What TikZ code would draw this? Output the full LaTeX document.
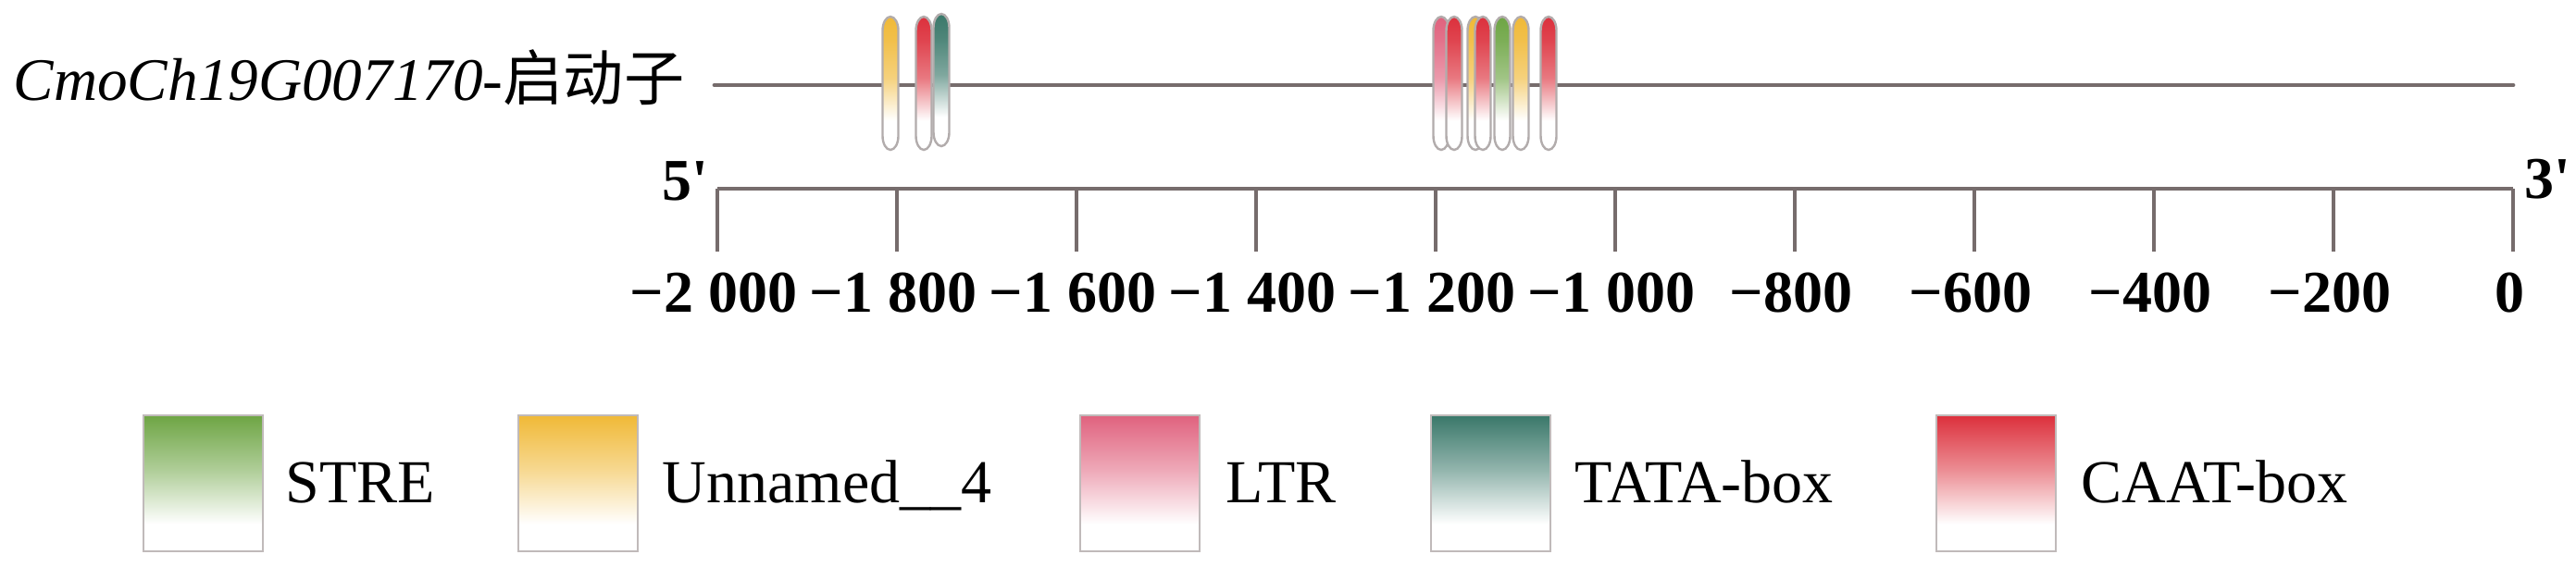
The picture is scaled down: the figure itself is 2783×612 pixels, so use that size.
\documentclass[tikz,border=0pt]{standalone}
\usepackage{fontspec}
\setmainfont{Liberation Serif}
\newfontfamily\cjk{Noto Sans CJK SC}
\definecolor{strecol}{RGB}{110,165,68}
\definecolor{unncol}{RGB}{240,185,55}
\definecolor{ltrcol}{RGB}{224,98,126}
\definecolor{tatacol}{RGB}{58,120,106}
\definecolor{caatcol}{RGB}{220,48,60}
\definecolor{capedge}{RGB}{178,172,172}
\definecolor{legedge}{RGB}{192,186,186}
\definecolor{linecol}{RGB}{118,108,108}
\colorlet{capcol}{red}
\pgfdeclareverticalshading[capcol]{capshade}{100bp}{color(0bp)=(white); color(35bp)=(white); color(55bp)=(capcol!55!white); color(75bp)=(capcol); color(100bp)=(capcol)}
\pgfdeclareverticalshading[capcol]{pinshade}{100bp}{color(0bp)=(white); color(36bp)=(white); color(52bp)=(capcol!65!white); color(66bp)=(capcol!90!white); color(75bp)=(capcol); color(100bp)=(capcol)}
\tikzset{
  capsule/.style={/utils/exec={\colorlet{capcol}{#1}}, shade, shading=pinshade, draw=capedge, line width=0.6pt},
  legbox/.style={/utils/exec={\colorlet{capcol}{#1}}, shade, shading=capshade, draw=legedge, line width=0.6pt,
    minimum width=32.25pt, minimum height=36.75pt, inner sep=0pt, anchor=north west},
  dnaline/.style={draw=linecol, line width=1.2pt, line cap=round},
  axisline/.style={draw=linecol, line width=1pt},
  ticklab/.style={font=\fontsize{16pt}{19pt}\selectfont\bfseries, anchor=base, inner sep=0pt},
  leglab/.style={font=\fontsize{16.5pt}{20pt}\selectfont, anchor=base west, inner sep=0pt},
}
\newcommand\capsuleat[4]{% x, color, top, bottom
  \path[capsule=#2] (#1-8.5,#3+15) arc[start angle=180,end angle=0,x radius=2.125pt,y radius=3.75pt]
    -- (#1+8.5,#4-15) arc[start angle=0,end angle=-180,x radius=2.125pt,y radius=3.75pt] -- cycle;}
\begin{document}
\begin{tikzpicture}[x=0.25pt,y=-0.25pt]
\useasboundingbox (0,0) rectangle (2783,612);
% title
\node[anchor=base west, inner sep=0pt, font=\fontsize{16.3pt}{19pt}\selectfont] (title) at (14,108)
  {\itshape CmoCh19G007170-{\upshape\cjk 启动子}};
% promoter line
\coordinate (l0) at (772,92);
\coordinate (l1) at (2715,92);
\draw[dnaline] (l0) -- (l1);
% elements
\capsuleat{962}{unncol}{18}{162}
\capsuleat{998}{caatcol}{18}{162}
\capsuleat{1017}{tatacol}{15}{158}
\capsuleat{1557}{ltrcol}{18}{162}
\capsuleat{1571}{caatcol}{18}{162}
\capsuleat{1594}{unncol}{18}{162}
\capsuleat{1602}{caatcol}{18}{162}
\capsuleat{1623}{strecol}{18}{162}
\capsuleat{1643}{unncol}{18}{162}
\capsuleat{1673}{caatcol}{18}{162}
% axis
\coordinate (a0) at (775,204);
\coordinate (a1) at (2715,204);
\draw[axisline] (a0) -- (a1);
\foreach \i/\lab in {0/−2~000,1/−1~800,2/−1~600,3/−1~400,4/−1~200,5/−1~000,6/−800,7/−600,8/−400,9/−200,10/0}{
  \draw[axisline] (775+194*\i,204) -- (775+194*\i,272);
  \node[ticklab] (t\i) at (775+194*\i-4,337) {\lab};
}
\node[ticklab, anchor=base east] (five) at (766,216) {5\textquotesingle};
\node[ticklab, anchor=base west] (three) at (2727,214) {3\textquotesingle};
% legend
\node[legbox=strecol] (b1) at (154,448) {};
\node[leglab] (g1) at (308,543) {STRE};
\node[legbox=unncol] (b2) at (559,448) {};
\node[leglab] (g2) at (715,543) {Unnamed\_\_4};
\node[legbox=ltrcol] (b3) at (1166,448) {};
\node[leglab] (g3) at (1324,543) {LTR};
\node[legbox=tatacol] (b4) at (1545,448) {};
\node[leglab] (g4) at (1701,543) {TATA-box};
\node[legbox=caatcol] (b5) at (2091,448) {};
\node[leglab] (g5) at (2248,543) {CAAT-box};
\end{tikzpicture}
\end{document}
